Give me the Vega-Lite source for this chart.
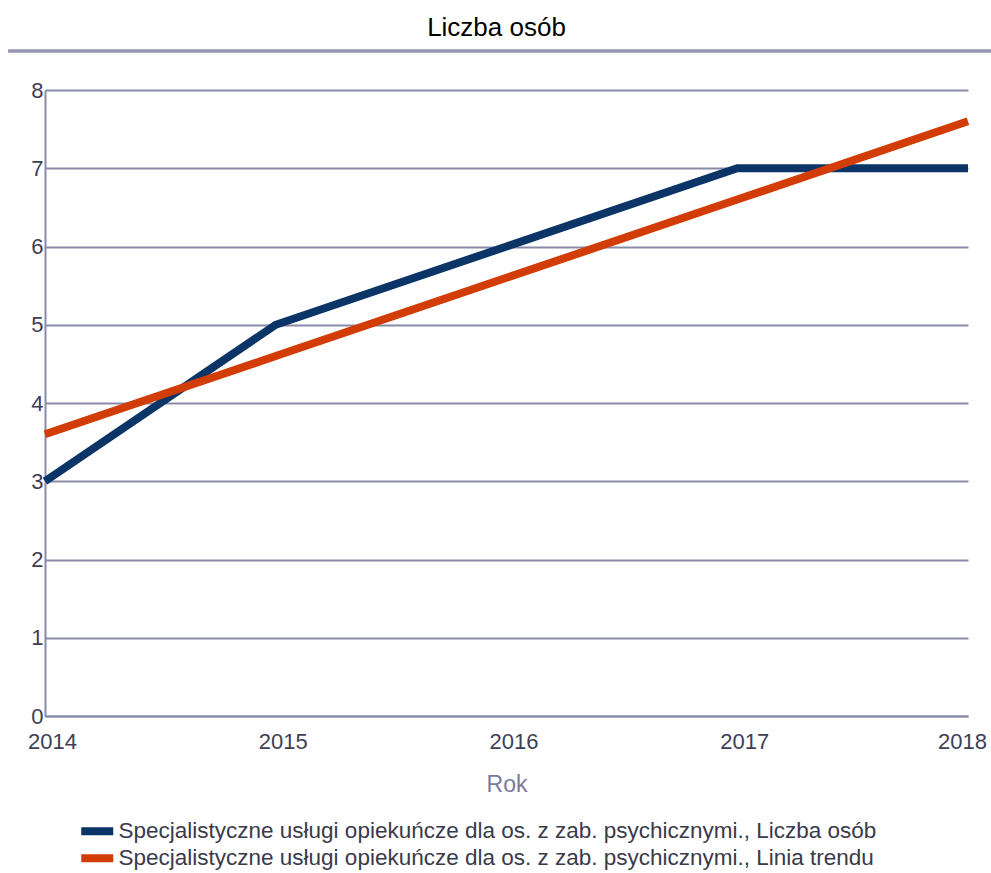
{
  "$schema": "https://vega.github.io/schema/vega-lite/v6.json",
  "width": 923,
  "height": 626,
  "autosize": "none",
  "padding": {"left": 45, "top": 90, "right": 23, "bottom": 157},
  "background": "white",
  "title": {
    "text": "Liczba osób",
    "fontSize": 26,
    "font": "Liberation Sans",
    "fontWeight": "normal",
    "color": "#000000",
    "anchor": "middle",
    "dx": -10,
    "baseline": "alphabetic",
    "offset": -13
  },
  "config": {
    "view": {"stroke": null},
    "font": "Liberation Sans"
  },
  "datasets": {
    "series": [
      {"rok": 2014, "wartosc": 3, "seria": "Specjalistyczne usługi opiekuńcze dla os. z zab. psychicznymi., Liczba osób"},
      {"rok": 2015, "wartosc": 5, "seria": "Specjalistyczne usługi opiekuńcze dla os. z zab. psychicznymi., Liczba osób"},
      {"rok": 2016, "wartosc": 6, "seria": "Specjalistyczne usługi opiekuńcze dla os. z zab. psychicznymi., Liczba osób"},
      {"rok": 2017, "wartosc": 7, "seria": "Specjalistyczne usługi opiekuńcze dla os. z zab. psychicznymi., Liczba osób"},
      {"rok": 2018, "wartosc": 7, "seria": "Specjalistyczne usługi opiekuńcze dla os. z zab. psychicznymi., Liczba osób"},
      {"rok": 2014, "wartosc": 3.6, "seria": "Specjalistyczne usługi opiekuńcze dla os. z zab. psychicznymi., Linia trendu"},
      {"rok": 2015, "wartosc": 4.6, "seria": "Specjalistyczne usługi opiekuńcze dla os. z zab. psychicznymi., Linia trendu"},
      {"rok": 2016, "wartosc": 5.6, "seria": "Specjalistyczne usługi opiekuńcze dla os. z zab. psychicznymi., Linia trendu"},
      {"rok": 2017, "wartosc": 6.6, "seria": "Specjalistyczne usługi opiekuńcze dla os. z zab. psychicznymi., Linia trendu"},
      {"rok": 2018, "wartosc": 7.6, "seria": "Specjalistyczne usługi opiekuńcze dla os. z zab. psychicznymi., Linia trendu"}
    ],
    "separator": [
      {"x0": 2013.84, "x1": 2018.1, "y": 8.5}
    ]
  },
  "layer": [
    {
      "data": {"name": "separator"},
      "mark": {"type": "rule", "color": "#9696b2", "strokeWidth": 3.5, "clip": false},
      "encoding": {
        "x": {"field": "x0", "type": "quantitative", "scale": {"domain": [2014, 2018], "nice": false, "zero": false}},
        "x2": {"field": "x1"},
        "y": {"field": "y", "type": "quantitative", "scale": {"domain": [0, 8], "nice": false}}
      }
    },
    {
      "data": {"name": "series"},
      "mark": {"type": "line", "strokeWidth": 8, "strokeJoin": "miter"},
      "encoding": {
        "x": {
          "field": "rok",
          "type": "quantitative",
          "scale": {"domain": [2014, 2018], "nice": false, "zero": false},
          "axis": {
            "title": "Rok",
            "values": [2014, 2015, 2016, 2017, 2018],
            "format": "d",
            "grid": false,
            "ticks": false,
            "domainColor": "#8a8aa8",
            "domainWidth": 2,
            "labelFontSize": 22,
            "labelColor": "#3e3e56",
            "labelPadding": 15,
            "labelBaseline": "top",
            "labelFlush": false,
            "labelOffset": {"condition": {"test": "datum.value == 2018", "value": -6}, "value": 7},
            "labelBound": false,
            "labelOverlap": false,
            "titleFontSize": 23,
            "titleFontWeight": "normal",
            "titleColor": "#7a7aa0",
            "titlePadding": 21
          }
        },
        "y": {
          "field": "wartosc",
          "type": "quantitative",
          "scale": {"domain": [0, 8], "nice": false},
          "axis": {
            "title": null,
            "values": [0, 1, 2, 3, 4, 5, 6, 7, 8],
            "format": "d",
            "grid": true,
            "gridColor": "#8a8aa8",
            "gridWidth": 2,
            "gridOpacity": 1,
            "ticks": false,
            "domainColor": "#8a8aa8",
            "domainWidth": 2,
            "labelFontSize": 22,
            "labelColor": "#3e3e56",
            "labelPadding": 2
          }
        },
        "color": {
          "field": "seria",
          "type": "nominal",
          "scale": {
            "domain": [
              "Specjalistyczne usługi opiekuńcze dla os. z zab. psychicznymi., Liczba osób",
              "Specjalistyczne usługi opiekuńcze dla os. z zab. psychicznymi., Linia trendu"
            ],
            "range": ["#0b3567", "#d23c06"]
          },
          "legend": {
            "title": null,
            "orient": "none",
            "legendX": 33,
            "legendY": 730,
            "direction": "vertical",
            "symbolType": "M-1,-0.5H3V0.5H-1Z",
            "symbolSize": 256,
            "symbolStrokeWidth": 0,
            "symbolOpacity": 1,
            "labelFontSize": 22.5,
            "labelColor": "#3a3a4a",
            "labelLimit": 900,
            "labelOffset": 18,
            "rowPadding": 4,
            "encode": {
              "symbols": {
                "update": {
                  "fill": {"scale": "color", "field": "value"},
                  "strokeWidth": {"value": 0}
                }
              }
            }
          }
        },
        "order": {"field": "seria"}
      }
    }
  ]
}
